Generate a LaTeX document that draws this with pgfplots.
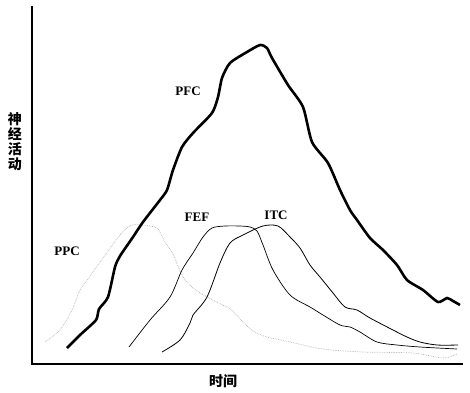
\documentclass[border=0pt]{standalone}
\usepackage{pgfplots}
\pgfplotsset{compat=1.18}
\usepackage{fontspec}
\setmainfont{Liberation Serif}
\newfontfamily\cjk{Noto Sans CJK SC}
\begin{document}
\begin{tikzpicture}
\begin{axis}[
  scale only axis, width=470pt, height=392pt,
  xmin=0, xmax=470, ymin=0, ymax=392, y dir=reverse,
  hide axis, clip=false,
]
% axes
\addplot[black, line width=1.1pt] coordinates {(32,6) (32,364) (463,364)};
% PPC
\addplot[gray!60, densely dotted, line width=0.7pt, smooth, tension=0.5] coordinates {
(45,342) (60,330) (72,310) (80,290) (87,280) (105,255) (120,235) (132,225) (150,226) (158,229)
(165,242) (173,254) (182,275) (193,288) (207,297) (230,309) (243,322) (253,331) (267,337)
(290,342) (323,349) (363,352) (413,353) (443,358) (457,354)};
% FEF
\addplot[black, line width=0.7pt, smooth, tension=0.5] coordinates {
(129,347) (150,320) (170,297) (182,270) (193,253) (203,237) (212,228) (225,226) (240,226) (250,227)
(257,231) (263,245) (273,270) (290,295) (310,307) (323,315) (340,325) (350,327) (360,332)
(377,342) (397,345) (420,347) (457,349)};
% ITC
\addplot[black, line width=0.8pt, smooth, tension=0.5] coordinates {
(162,352) (180,340) (190,323) (193,315) (207,297) (220,263) (230,243) (243,235) (263,226)
(278,226) (290,237) (300,248) (310,265) (320,277) (333,293) (345,307) (357,310) (370,318)
(393,330) (407,337) (420,342) (437,345) (458,345)};
% PFC
\addplot[black, line width=2.6pt, smooth, tension=0.4] coordinates {
(67,348) (80,335) (96,320) (99,309) (108,297) (115,267) (120,256) (133,237) (143,222) (160,200)
(167,190) (173,170) (182,147) (193,133) (212,113) (218,97) (222,78) (230,63) (247,52) (260,45)
(267,48) (272,58) (288,85) (303,107) (312,142) (328,163) (340,190) (350,210) (357,220)
(370,238) (383,250) (397,265) (407,280) (423,290) (438,302) (447,298) (453,301) (460,305)};
% labels
\node[font=\bfseries\fontsize{13}{13}\selectfont] at (axis cs:188,91) {PFC};
\node[font=\bfseries\fontsize{13}{13}\selectfont] at (axis cs:67,251) {PPC};
\node[font=\bfseries\fontsize{13}{13}\selectfont] at (axis cs:197,217) {FEF};
\node[font=\bfseries\fontsize{13}{13}\selectfont] at (axis cs:276,215) {ITC};
\node[font=\cjk\bfseries\fontsize{14}{15}\selectfont, align=center, inner sep=0pt] at (axis cs:15,142) {神\\经\\活\\动};
\node[font=\cjk\bfseries\fontsize{14}{14}\selectfont, inner sep=0pt] at (axis cs:223,381) {时间};
\end{axis}
\path (current axis.south west) rectangle (current axis.north east);
\end{tikzpicture}
\end{document}
